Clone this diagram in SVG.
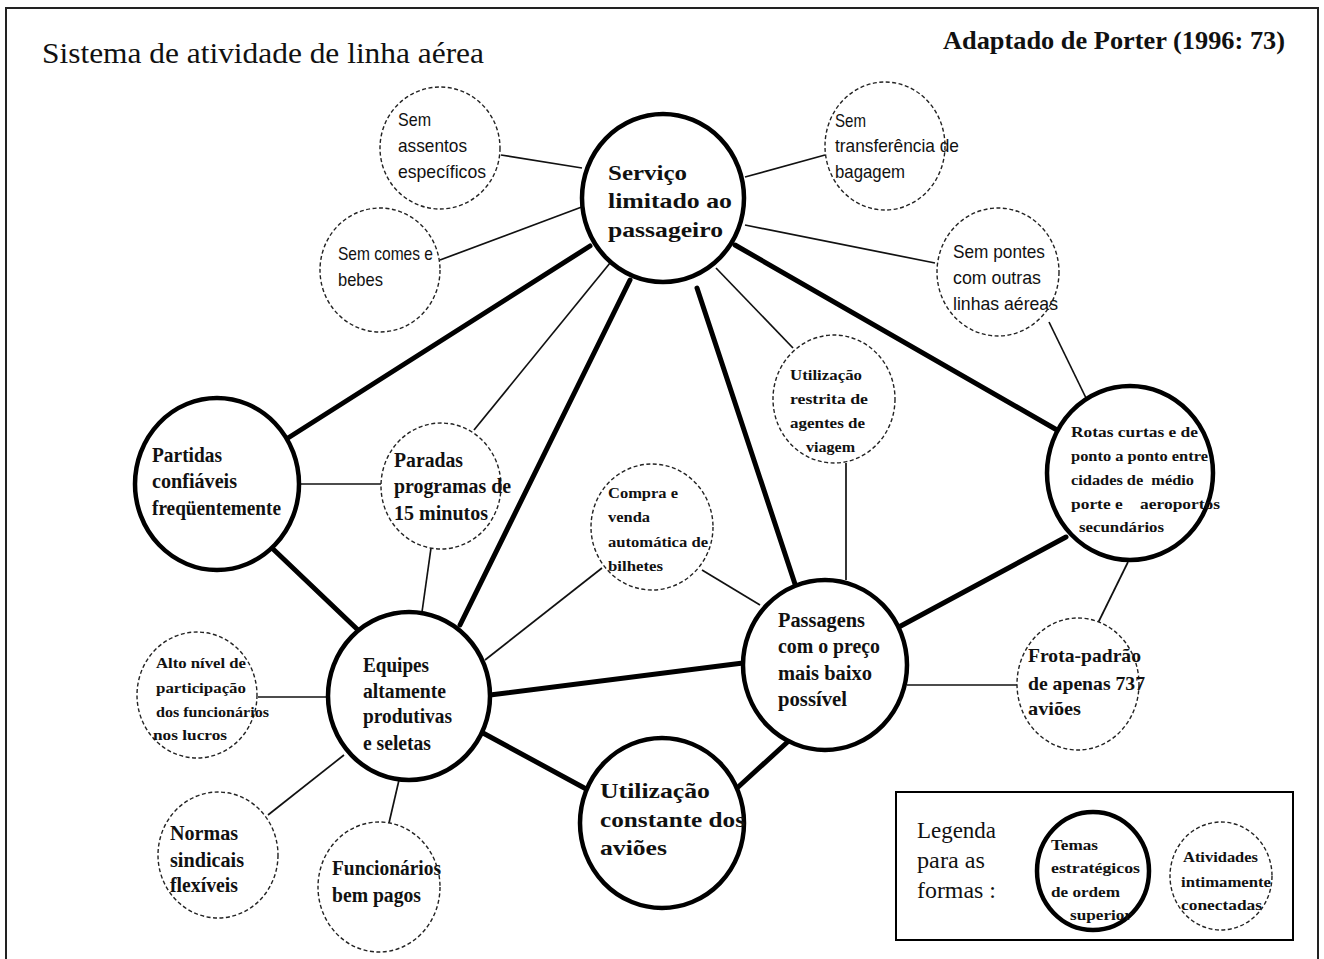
<svg xmlns="http://www.w3.org/2000/svg" width="1324" height="959" viewBox="0 0 1324 959">
  <style>
    .major { fill: #fff; stroke: #000; stroke-width: 4.5; }
    .minor { fill: #fff; stroke: #222; stroke-width: 1.4; stroke-dasharray: 4 2.5; }
    .thick { stroke: #000; stroke-width: 5; stroke-linecap: round; fill: none; }
    .thin { stroke: #111; stroke-width: 1.7; fill: none; }
    text { fill: #111; white-space: pre; }
    .sb { font-family: "Liberation Serif", "DejaVu Serif", serif; font-weight: bold; }
    .sr { font-family: "Liberation Serif", "DejaVu Serif", serif; }
    .ss { font-family: "Liberation Sans Narrow", "Liberation Sans", "DejaVu Sans", sans-serif; }
    .f22 { font-size: 22px; }
    .f20 { font-size: 20px; }
    .f19 { font-size: 19px; }
    .f15 { font-size: 15px; }
    .f14 { font-size: 14px; }
    .f18s { font-size: 18.5px; }
  </style>

  <!-- page frame -->
  <rect x="6" y="8" width="1312" height="962" fill="#fff" stroke="#222" stroke-width="2"/>

  <!-- headings -->
  <text class="sr" x="42" y="63" font-size="30" textLength="442" lengthAdjust="spacingAndGlyphs">Sistema de atividade de linha aérea</text>
  <text class="sb" x="943" y="49" font-size="25" textLength="342" lengthAdjust="spacingAndGlyphs">Adaptado de Porter (1996: 73)</text>

  <!-- connectors -->
  <g id="connectors">
    <line class="thick" x1="590" y1="246" x2="288" y2="438"/>
    <line class="thick" x1="630" y1="280" x2="460" y2="625"/>
    <line class="thick" x1="697" y1="288" x2="795" y2="584"/>
    <line class="thick" x1="735" y1="245" x2="1057" y2="430"/>
    <line class="thick" x1="272" y1="548" x2="358" y2="630"/>
    <line class="thick" x1="490" y1="695" x2="743" y2="663"/>
    <line class="thick" x1="483" y1="733" x2="588" y2="790"/>
    <line class="thick" x1="736" y1="789" x2="793" y2="737"/>
    <line class="thick" x1="897" y1="628" x2="1066" y2="537"/>

    <line class="thin" x1="501" y1="155" x2="582" y2="168"/>
    <line class="thin" x1="440" y1="260" x2="587" y2="205"/>
    <line class="thin" x1="745" y1="177" x2="825" y2="155"/>
    <line class="thin" x1="745" y1="225" x2="935" y2="263"/>
    <line class="thin" x1="610" y1="263" x2="474" y2="430"/>
    <line class="thin" x1="716" y1="268" x2="793" y2="348"/>
    <line class="thin" x1="1049" y1="322" x2="1086" y2="398"/>
    <line class="thin" x1="299" y1="484" x2="381" y2="484"/>
    <line class="thin" x1="431" y1="548" x2="422" y2="612"/>
    <line class="thin" x1="602" y1="568" x2="485" y2="660"/>
    <line class="thin" x1="702" y1="570" x2="760" y2="605"/>
    <line class="thin" x1="846" y1="463" x2="846" y2="580"/>
    <line class="thin" x1="1128" y1="562" x2="1097" y2="625"/>
    <line class="thin" x1="907" y1="685" x2="1017" y2="685"/>
    <line class="thin" x1="258" y1="697" x2="328" y2="697"/>
    <line class="thin" x1="268" y1="815" x2="344" y2="755"/>
    <line class="thin" x1="389" y1="823" x2="399" y2="780"/>
  </g>

  <!-- strategic themes -->
  <g id="servico">
    <ellipse class="major" cx="663" cy="198" rx="81" ry="84"/>
    <text class="sb f22" x="608" y="180" textLength="79" lengthAdjust="spacingAndGlyphs">Serviço</text>
    <text class="sb f22" x="608" y="208" textLength="124" lengthAdjust="spacingAndGlyphs">limitado ao</text>
    <text class="sb f22" x="608" y="237" textLength="115" lengthAdjust="spacingAndGlyphs">passageiro</text>
  </g>

  <g id="partidas">
    <ellipse class="major" cx="217" cy="484" rx="82" ry="86"/>
    <text class="sb f20" x="152" y="462" textLength="70" lengthAdjust="spacingAndGlyphs">Partidas</text>
    <text class="sb f20" x="152" y="488" textLength="85" lengthAdjust="spacingAndGlyphs">confiáveis</text>
    <text class="sb f20" x="152" y="515" textLength="129" lengthAdjust="spacingAndGlyphs">freqüentemente</text>
  </g>

  <g id="rotas">
    <ellipse class="major" cx="1130" cy="473" rx="83" ry="87"/>
    <text class="sb f15" x="1071" y="437" textLength="127" lengthAdjust="spacingAndGlyphs">Rotas curtas e de</text>
    <text class="sb f15" x="1071" y="461" textLength="137" lengthAdjust="spacingAndGlyphs">ponto a ponto entre</text>
    <text class="sb f15" x="1071" y="485" textLength="123" lengthAdjust="spacingAndGlyphs">cidades de  médio</text>
    <text class="sb f15" x="1071" y="509" textLength="149" lengthAdjust="spacingAndGlyphs">porte e    aeroportos</text>
    <text class="sb f15" x="1079" y="532" textLength="85" lengthAdjust="spacingAndGlyphs">secundários</text>
  </g>

  <g id="passagens">
    <ellipse class="major" cx="825" cy="665" rx="82" ry="85"/>
    <text class="sb f20" x="778" y="627" textLength="87" lengthAdjust="spacingAndGlyphs">Passagens</text>
    <text class="sb f20" x="778" y="653" textLength="102" lengthAdjust="spacingAndGlyphs">com o preço</text>
    <text class="sb f20" x="778" y="680" textLength="94" lengthAdjust="spacingAndGlyphs">mais baixo</text>
    <text class="sb f20" x="778" y="706" textLength="69" lengthAdjust="spacingAndGlyphs">possível</text>
  </g>

  <g id="equipes">
    <ellipse class="major" cx="409" cy="696" rx="81" ry="84"/>
    <text class="sb f20" x="363" y="672" textLength="66" lengthAdjust="spacingAndGlyphs">Equipes</text>
    <text class="sb f20" x="363" y="698" textLength="83" lengthAdjust="spacingAndGlyphs">altamente</text>
    <text class="sb f20" x="363" y="723" textLength="89" lengthAdjust="spacingAndGlyphs">produtivas</text>
    <text class="sb f20" x="363" y="750" textLength="68" lengthAdjust="spacingAndGlyphs">e seletas</text>
  </g>

  <g id="utilizacao-constante">
    <ellipse class="major" cx="662" cy="823" rx="82" ry="85"/>
    <text class="sb f22" x="600" y="798" textLength="110" lengthAdjust="spacingAndGlyphs">Utilização</text>
    <text class="sb f22" x="600" y="827" textLength="145" lengthAdjust="spacingAndGlyphs">constante dos</text>
    <text class="sb f22" x="600" y="855" textLength="67" lengthAdjust="spacingAndGlyphs">aviões</text>
  </g>

  <!-- supporting activities -->
  <g id="sem-assentos">
    <ellipse class="minor" cx="440" cy="148" rx="60" ry="61"/>
    <text class="ss f18s" x="398" y="126" textLength="33" lengthAdjust="spacingAndGlyphs">Sem</text>
    <text class="ss f18s" x="398" y="152" textLength="69" lengthAdjust="spacingAndGlyphs">assentos</text>
    <text class="ss f18s" x="398" y="178" textLength="88" lengthAdjust="spacingAndGlyphs">específicos</text>
  </g>

  <g id="sem-comes">
    <ellipse class="minor" cx="380" cy="270" rx="60" ry="62"/>
    <text class="ss f18s" x="338" y="260" textLength="95" lengthAdjust="spacingAndGlyphs">Sem comes e</text>
    <text class="ss f18s" x="338" y="286" textLength="45" lengthAdjust="spacingAndGlyphs">bebes</text>
  </g>

  <g id="sem-transferencia">
    <ellipse class="minor" cx="885" cy="146" rx="60" ry="64"/>
    <text class="ss f18s" x="835" y="127" textLength="31" lengthAdjust="spacingAndGlyphs">Sem</text>
    <text class="ss f18s" x="835" y="152" textLength="124" lengthAdjust="spacingAndGlyphs">transferência de</text>
    <text class="ss f18s" x="835" y="178" textLength="70" lengthAdjust="spacingAndGlyphs">bagagem</text>
  </g>

  <g id="sem-pontes">
    <ellipse class="minor" cx="998" cy="272" rx="61" ry="64"/>
    <text class="ss f18s" x="953" y="258" textLength="92" lengthAdjust="spacingAndGlyphs">Sem pontes</text>
    <text class="ss f18s" x="953" y="284" textLength="88" lengthAdjust="spacingAndGlyphs">com outras</text>
    <text class="ss f18s" x="953" y="310" textLength="105" lengthAdjust="spacingAndGlyphs">linhas aéreas</text>
  </g>

  <g id="paradas">
    <ellipse class="minor" cx="441" cy="486" rx="60" ry="63"/>
    <text class="sb f20" x="394" y="467" textLength="69" lengthAdjust="spacingAndGlyphs">Paradas</text>
    <text class="sb f20" x="394" y="493" textLength="117" lengthAdjust="spacingAndGlyphs">programas de</text>
    <text class="sb f20" x="394" y="520" textLength="94" lengthAdjust="spacingAndGlyphs">15 minutos</text>
  </g>

  <g id="utilizacao-restrita">
    <ellipse class="minor" cx="834" cy="399" rx="61" ry="64"/>
    <text class="sb f15" x="790" y="380" textLength="72" lengthAdjust="spacingAndGlyphs">Utilização</text>
    <text class="sb f15" x="790" y="404" textLength="78" lengthAdjust="spacingAndGlyphs">restrita de</text>
    <text class="sb f15" x="790" y="428" textLength="75" lengthAdjust="spacingAndGlyphs">agentes de</text>
    <text class="sb f15" x="806" y="452" textLength="49" lengthAdjust="spacingAndGlyphs">viagem</text>
  </g>

  <g id="compra-venda">
    <ellipse class="minor" cx="652" cy="527" rx="61" ry="63"/>
    <text class="sb f15" x="608" y="498" textLength="70" lengthAdjust="spacingAndGlyphs">Compra e</text>
    <text class="sb f15" x="608" y="522" textLength="42" lengthAdjust="spacingAndGlyphs">venda</text>
    <text class="sb f15" x="608" y="547" textLength="100" lengthAdjust="spacingAndGlyphs">automática de</text>
    <text class="sb f15" x="608" y="571" textLength="55" lengthAdjust="spacingAndGlyphs">bilhetes</text>
  </g>

  <g id="frota">
    <ellipse class="minor" cx="1078" cy="684" rx="61" ry="66"/>
    <text class="sb f19" x="1028" y="662" textLength="113" lengthAdjust="spacingAndGlyphs">Frota-padrão</text>
    <text class="sb f19" x="1028" y="690" textLength="117" lengthAdjust="spacingAndGlyphs">de apenas 737</text>
    <text class="sb f19" x="1028" y="715" textLength="53" lengthAdjust="spacingAndGlyphs">aviões</text>
  </g>

  <g id="alto-nivel">
    <ellipse class="minor" cx="197" cy="695" rx="60" ry="63"/>
    <text class="sb f14" x="156" y="668" textLength="90" lengthAdjust="spacingAndGlyphs">Alto nível de</text>
    <text class="sb f14" x="156" y="693" textLength="90" lengthAdjust="spacingAndGlyphs">participação</text>
    <text class="sb f14" x="156" y="717" textLength="113" lengthAdjust="spacingAndGlyphs">dos funcionários</text>
    <text class="sb f14" x="153" y="740" textLength="74" lengthAdjust="spacingAndGlyphs">nos lucros</text>
  </g>

  <g id="normas">
    <ellipse class="minor" cx="218" cy="855" rx="60" ry="63"/>
    <text class="sb f20" x="170" y="840" textLength="68" lengthAdjust="spacingAndGlyphs">Normas</text>
    <text class="sb f20" x="170" y="867" textLength="74" lengthAdjust="spacingAndGlyphs">sindicais</text>
    <text class="sb f20" x="170" y="892" textLength="68" lengthAdjust="spacingAndGlyphs">flexíveis</text>
  </g>

  <g id="funcionarios">
    <ellipse class="minor" cx="379" cy="887" rx="61" ry="65"/>
    <text class="sb f20" x="332" y="875" textLength="109" lengthAdjust="spacingAndGlyphs">Funcionários</text>
    <text class="sb f20" x="332" y="902" textLength="89" lengthAdjust="spacingAndGlyphs">bem pagos</text>
  </g>

  <!-- shape legend -->
  <g id="legenda">
    <rect x="896" y="792" width="397" height="148" fill="#fff" stroke="#000" stroke-width="2"/>
    <text class="sr" x="917" y="838" font-size="23" textLength="79" lengthAdjust="spacingAndGlyphs">Legenda</text>
    <text class="sr" x="917" y="868" font-size="23" textLength="68" lengthAdjust="spacingAndGlyphs">para as</text>
    <text class="sr" x="917" y="898" font-size="23" textLength="79" lengthAdjust="spacingAndGlyphs">formas :</text>
    <ellipse class="major" cx="1093" cy="871" rx="56" ry="59"/>
    <text class="sb f14" x="1051" y="850" textLength="47" lengthAdjust="spacingAndGlyphs">Temas</text>
    <text class="sb f14" x="1051" y="873" textLength="89" lengthAdjust="spacingAndGlyphs">estratégicos</text>
    <text class="sb f14" x="1051" y="897" textLength="69" lengthAdjust="spacingAndGlyphs">de ordem</text>
    <text class="sb f14" x="1070" y="920" textLength="62" lengthAdjust="spacingAndGlyphs">superior</text>
    <ellipse class="minor" cx="1221" cy="876" rx="51" ry="54"/>
    <text class="sb f14" x="1183" y="862" textLength="75" lengthAdjust="spacingAndGlyphs">Atividades</text>
    <text class="sb f14" x="1181" y="887" textLength="90" lengthAdjust="spacingAndGlyphs">intimamente</text>
    <text class="sb f14" x="1181" y="910" textLength="81" lengthAdjust="spacingAndGlyphs">conectadas</text>
  </g>
</svg>
